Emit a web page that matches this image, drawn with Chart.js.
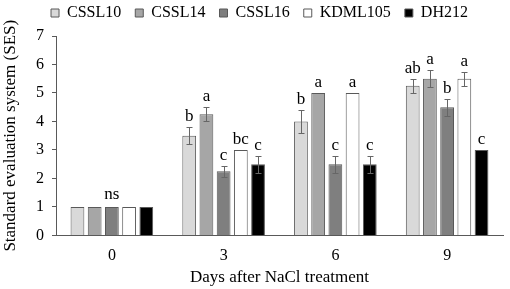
<!DOCTYPE html>
<html><head><meta charset="utf-8">
<script src="https://cdn.jsdelivr.net/npm/chart.js@4/dist/chart.umd.min.js"></script>
<style>html,body{margin:0;padding:0;background:#fff}#wrap{width:510px;height:289px}</style>
</head><body><div id="wrap"><canvas id="c" width="510" height="289"></canvas></div>
<script>
const categories = ['0', '3', '6', '9'];
const seriesNames = ['CSSL10', 'CSSL14', 'CSSL16', 'KDML105', 'DH212'];
const CSSL10 = [1, 3.5, 4.0, 5.25];
const CSSL14 = [1, 4.25, 5.0, 5.5];
const CSSL16 = [1, 2.25, 2.5, 4.5];
const KDML105 = [1, 3.0, 5.0, 5.5];
const DH212 = [1, 2.5, 2.5, 3.0];
const errCSSL10 = [0, 0.3, 0.4, 0.25];
const errCSSL14 = [0, 0.25, 0, 0.3];
const errCSSL16 = [0, 0.2, 0.3, 0.3];
const errKDML105 = [0, 0, 0, 0.25];
const errDH212 = [0, 0.3, 0.3, 0];
const letCSSL10 = ['', 'b', 'b', 'ab'];
const letCSSL14 = ['', 'a', 'a', 'a'];
const letCSSL16 = ['', 'c', 'c', 'b'];
const letKDML105 = ['', 'bc', 'a', 'a'];
const letDH212 = ['', 'c', 'c', 'c'];
const groupLabels = ['ns', '', '', ''];
const yTicks = [0, 1, 2, 3, 4, 5, 6, 7];

const values = [CSSL10, CSSL14, CSSL16, KDML105, DH212];
const errs = [errCSSL10, errCSSL14, errCSSL16, errKDML105, errDH212];
const lets = [letCSSL10, letCSSL14, letCSSL16, letKDML105, letDH212];
const fills = ['#d9d9d9', '#a6a6a6', '#7f7f7f', '#ffffff', '#000000'];
const SERIF = '"Liberation Serif", "Times New Roman", serif';
Chart.defaults.font.family = SERIF;
Chart.defaults.color = '#000';

const annot = {
  id: 'annot',
  afterDatasetsDraw(chart) {
    const ctx = chart.ctx;
    const y = chart.scales.y;
    ctx.save();
    chart.data.datasets.forEach((ds, di) => {
      const meta = chart.getDatasetMeta(di);
      meta.data.forEach((bar, i) => {
        const v = values[di][i], e = errs[di][i];
        const x = bar.x;
        let topVal = v;
        if (e > 0) {
          const y1 = Math.round(y.getPixelForValue(v + e)) + 0.5, y2 = Math.round(y.getPixelForValue(v - e)) + 0.5;
          const xx = Math.round(x) + 0.5;
          ctx.strokeStyle = '#666666';
          ctx.lineWidth = 1;
          ctx.beginPath();
          ctx.moveTo(xx, y1); ctx.lineTo(xx, y2);
          ctx.moveTo(xx - 3, y1); ctx.lineTo(xx + 3, y1);
          ctx.moveTo(xx - 3, y2); ctx.lineTo(xx + 3, y2);
          ctx.stroke();
          topVal = v + e;
        }
        const t = lets[di][i];
        if (t) {
          ctx.fillStyle = '#000';
          ctx.font = '17px ' + SERIF;
          ctx.textAlign = 'center';
          ctx.textBaseline = 'alphabetic';
          ctx.fillText(t, x, y.getPixelForValue(topVal) - 6);
        }
      });
    });
    groupLabels.forEach((g, i) => {
      if (!g) return;
      const x = chart.scales.x.getPixelForValue(i);
      ctx.fillStyle = '#000';
      ctx.font = '17px ' + SERIF;
      ctx.textAlign = 'center';
      ctx.fillText(g, x, y.getPixelForValue(1) - 8);
    });
    ctx.restore();
  }
};

const LEG_H = 36, LEG_DX = 8, LEG_DY = -9;
const legendTweak = {
  id: 'legendTweak',
  beforeUpdate(chart) {
    const lg = chart.legend;
    if (!lg || lg._tweaked) return;
    lg._tweaked = true;
    const of = lg.fit, od = lg.draw;
    lg.fit = function () { of.call(this); this.height = LEG_H; };
    lg.draw = function () {
      const c = this.ctx; c.save(); c.translate(LEG_DX, LEG_DY); od.call(this); c.restore();
    };
  }
};

new Chart(document.getElementById('c'), {
  type: 'bar',
  data: {
    labels: categories,
    datasets: seriesNames.map((n, i) => ({
      label: n,
      data: values[i],
      backgroundColor: fills[i],
      borderColor: '#595959',
      borderWidth: 1,
      categoryPercentage: 0.77,
      barPercentage: 0.8
    }))
  },
  options: {
    responsive: false,
    animation: false,
    layout: { padding: { left: 0, right: 7, top: 0, bottom: 0 } },
    plugins: {
      legend: {
        position: 'top',
        labels: {
          font: { family: SERIF, size: 16 },
          color: '#000',
          boxWidth: 8, boxHeight: 8,
          padding: 14
        }
      },
      tooltip: { enabled: false }
    },
    scales: {
      x: {
        grid: { display: false, drawTicks: false },
        border: { display: true, color: '#595959' },
        ticks: { font: { family: SERIF, size: 16 }, color: '#000', padding: 11 },
        title: { display: true, text: 'Days after NaCl treatment', font: { family: SERIF, size: 17 }, color: '#000', padding: { top: -9, bottom: 1 } }
      },
      y: {
        min: 0, max: 7,
        afterBuildTicks(s) { s.ticks = yTicks.map(v => ({ value: v })); },
        afterFit(s) { s.width = 56; },
        grid: { display: true, drawOnChartArea: false, drawTicks: true, tickLength: 4, color: '#595959' },
        border: { display: true, color: '#595959' },
        ticks: { font: { family: SERIF, size: 16 }, color: '#000', padding: 8 },
        title: { display: true, text: 'Standard evaluation system (SES)', font: { family: SERIF, size: 17 }, color: '#000', padding: { top: 0, bottom: 2 } }
      }
    }
  },
  plugins: [annot, legendTweak]
});
</script>
</body></html>
